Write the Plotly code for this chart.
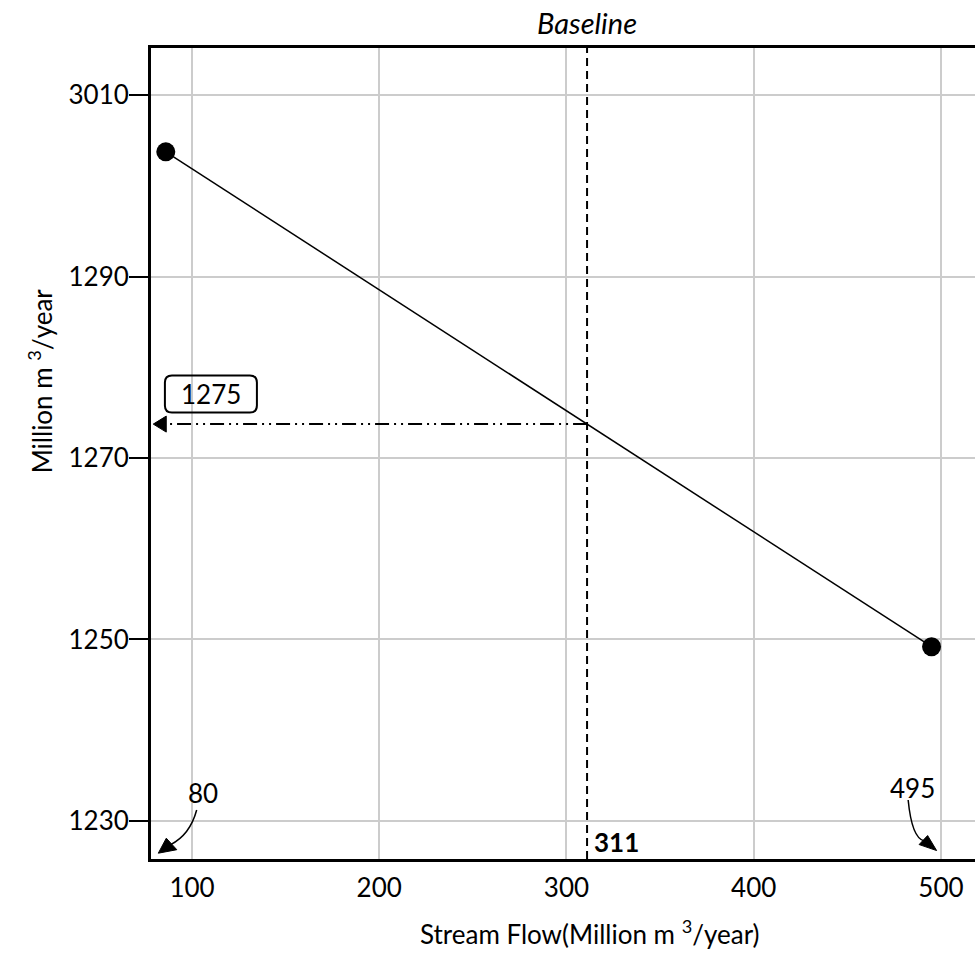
import plotly.graph_objects as go

# Data
stream_flow = [86, 495]
demand = [1303.75, 1249.2]
baseline_x = 311
baseline_label = "311"
intersect_label = "1275"
end_labels = ["80", "495"]
y_tickvals = [1230, 1250, 1270, 1290, 1310]
y_ticktext = ["1230", "1250", "1270", "1290", "3010"]
x_tickvals = [100, 200, 300, 400, 500]

X_RANGE = [78.1, 518.2]
Y_RANGE = [1225.8, 1315.2]

# interpolated y at baseline (from the drawn line)
slope = (demand[1] - demand[0]) / (stream_flow[1] - stream_flow[0])
y_at_base = demand[0] + slope * (baseline_x - stream_flow[0])

FONT = "Lato, Open Sans, sans-serif"
FS = 26

fig = go.Figure()
fig.add_trace(go.Scatter(
    x=stream_flow, y=demand, mode="lines+markers",
    line=dict(color="black", width=1.5),
    marker=dict(color="black", size=19),
    showlegend=False, hoverinfo="skip"))


def tri(xa, ya, pts):
    p = "M " + " L ".join(f"{a},{b}" for a, b in pts) + " Z"
    return dict(type="path", xref="x", yref="y", xsizemode="pixel", ysizemode="pixel",
                xanchor=xa, yanchor=ya, path=p, fillcolor="black",
                line=dict(color="black", width=1))


shapes = []
# vertical dashed baseline
shapes.append(dict(type="line", xref="x", yref="paper", x0=baseline_x, x1=baseline_x,
                   y0=0, y1=1.005, line=dict(color="black", width=2, dash="8px,5px")))
# horizontal dash-dot-dot line
shapes.append(dict(type="line", xref="x", yref="y", x0=baseline_x, x1=X_RANGE[0] + 8,
                   y0=y_at_base, y1=y_at_base,
                   line=dict(color="black", width=2, dash="14px,5px,2px,5px,2px,5px")))
shapes.append(tri(X_RANGE[0] + 1.2, y_at_base, [(0, 0), (13, 8), (13, -8)]))
# rounded box for 1275 label (pixel sized)
w, h, r = 46, 18.5, 7
path = (f"M {-w+r},{-h} L {w-r},{-h} Q {w},{-h} {w},{-h+r} L {w},{h-r} Q {w},{h} {w-r},{h} "
        f"L {-w+r},{h} Q {-w},{h} {-w},{h-r} L {-w},{-h+r} Q {-w},{-h} {-w+r},{-h} Z")
shapes.append(dict(type="path", xref="x", yref="y", xsizemode="pixel", ysizemode="pixel",
                   xanchor=110.1, yanchor=1277.05, path=path,
                   line=dict(color="black", width=2)))
# curved arrow for 80
shapes.append(dict(type="path", xref="x", yref="y",
                   path="M 102.5,1231.2 Q 98.9,1228.46 88.6,1227.39",
                   line=dict(color="black", width=1.5)))
shapes.append(tri(82.0, 1226.44, [(0, 0), (8, 15), (18.5, 3.5)]))
# curved arrow for 495
shapes.append(dict(type="path", xref="x", yref="y",
                   path="M 482.5,1232.3 Q 484.5,1228.1 491.0,1227.8",
                   line=dict(color="black", width=1.5)))
shapes.append(tri(497.7, 1226.73, [(0, 0), (-9, 15), (-17.5, 6)]))

annotations = []
annotations.append(dict(x=110.1, y=1277.05, xref="x", yref="y", text=intersect_label,
                        showarrow=False, font=dict(family=FONT, size=FS, color="black")))
annotations.append(dict(x=105.9, y=1233.1, xref="x", yref="y", text=end_labels[0],
                        showarrow=False, font=dict(family=FONT, size=FS, color="black")))
annotations.append(dict(x=485, y=1233.6, xref="x", yref="y", text=end_labels[1],
                        showarrow=False, font=dict(family=FONT, size=FS, color="black")))
annotations.append(dict(x=313.6, y=1227.7, xref="x", yref="y", text="<b>" + baseline_label + "</b>",
                        xanchor="left", yanchor="middle", showarrow=False,
                        font=dict(family=FONT, size=FS, color="black")))
annotations.append(dict(x=baseline_x, y=1.032, xref="x", yref="paper", text="<i>Baseline</i>",
                        xanchor="center", yanchor="middle",
                        showarrow=False, font=dict(family=FONT, size=29, color="black")))
annotations.append(dict(x=-0.1347, y=0.589, xref="paper", yref="paper",
                        text="Million m <sup>3</sup>/year", textangle=-90,
                        xanchor="center", yanchor="middle",
                        showarrow=False, font=dict(family=FONT, size=FS, color="black")))
annotations.append(dict(x=0.533, y=-0.091, xref="paper", yref="paper",
                        text="Stream Flow(Million m <sup>3</sup>/year)",
                        xanchor="center", yanchor="middle",
                        showarrow=False, font=dict(family=FONT, size=FS, color="black")))

fig.update_layout(
    width=975, height=954,
    margin=dict(l=151, r=0, t=48, b=95),
    paper_bgcolor="white", plot_bgcolor="white",
    shapes=shapes, annotations=annotations,
    xaxis=dict(range=X_RANGE, tickvals=x_tickvals, showgrid=True, gridcolor="#cccccc",
               gridwidth=1.5, zeroline=False, showline=True, linecolor="black",
               linewidth=3, mirror=True, ticks="outside", ticklen=4, tickcolor="rgba(0,0,0,0)",
               tickfont=dict(family=FONT, size=FS, color="black")),
    yaxis=dict(range=Y_RANGE, tickvals=y_tickvals, ticktext=y_ticktext, showgrid=True,
               gridcolor="#cccccc", gridwidth=1.5, zeroline=False, showline=True,
               linecolor="black", linewidth=3, ticks="outside", ticklen=19,
               tickcolor="black", tickwidth=1.5, ticklabelstandoff=-5,
               tickfont=dict(family=FONT, size=FS, color="black")),
)

fig.write_html("out.html", config={"displayModeBar": False},
               post_script="document.body.style.margin='0';document.body.style.overflow='hidden';")
